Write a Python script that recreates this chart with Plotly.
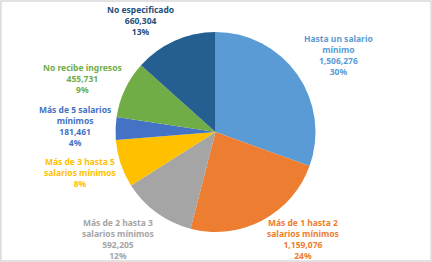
import plotly.graph_objects as go

categories = ["Hasta un salario mínimo", "Más de 1 hasta 2 salarios mínimos",
              "Más de 2 hasta 3 salarios mínimos", "Más de 3 hasta 5 salarios mínimos",
              "Más de 5 salarios mínimos", "No recibe ingresos", "No especificado"]
values = [1506276, 1159076, 592205, 380000, 181461, 455731, 660304]
label_text = [
    "Hasta un salario<br>mínimo<br>1,506,276<br>30%",
    "Más de 1 hasta 2<br>salarios mínimos<br>1,159,076<br>24%",
    "Más de 2 hasta 3<br>salarios mínimos<br>592,205<br>12%",
    "Más de 3 hasta 5<br>salarios mínimos<br>8%",
    "Más de 5 salarios<br>mínimos<br>181,461<br>4%",
    "No recibe ingresos<br>455,731<br>9%",
    "No especificado<br>660,304<br>13%",
]
colors = ["#5B9BD5", "#ED7D31", "#A5A5A5", "#FFC000", "#4472C4", "#70AD47", "#255E91"]
text_colors = ["#5B9BD5", "#ED7D31", "#A5A5A5", "#FFC000", "#4472C4", "#70AD47", "#264E78"]
# label block positions (pixels in 432x262 canvas): centre x, top y
label_pos = [(338, 31), (303, 215), (118, 215), (80, 154), (75, 102), (82, 60), (140, 2)]

W, H = 432, 262
cx, cy, r = 215.5, 132, 100

fig = go.Figure()
fig.add_trace(go.Pie(
    labels=categories, values=values, sort=False, direction="clockwise",
    rotation=0, marker=dict(colors=colors, line=dict(width=0)),
    textinfo="none", hoverinfo="label+value+percent", showlegend=False,
    domain=dict(x=[(cx - r) / W, (cx + r) / W], y=[1 - (cy + r) / H, 1 - (cy - r) / H]),
))

for txt, col, (x, y) in zip(label_text, text_colors, label_pos):
    fig.add_annotation(text="<b>" + txt + "</b>", x=x / W, y=1 - y / H,
                       xref="paper", yref="paper", xanchor="center", yanchor="top",
                       showarrow=False, align="center",
                       font=dict(family="Noto Sans", size=8.5, color=col))

fig.add_shape(type="rect", xref="paper", yref="paper", x0=0.002, y0=0.004, x1=0.998, y1=0.996,
              line=dict(color="#D9D9D9", width=1.5))

fig.update_layout(width=W, height=H, margin=dict(l=0, r=0, t=0, b=0),
                  paper_bgcolor="white", plot_bgcolor="white")
fig.write_html("out.html", config={"displayModeBar": False})

with open("out.html", "r", encoding="utf-8") as f:
    html = f.read()
html = html.replace("<body>", '<body style="margin:0;padding:0;overflow:hidden">', 1)
with open("out.html", "w", encoding="utf-8") as f:
    f.write(html)
